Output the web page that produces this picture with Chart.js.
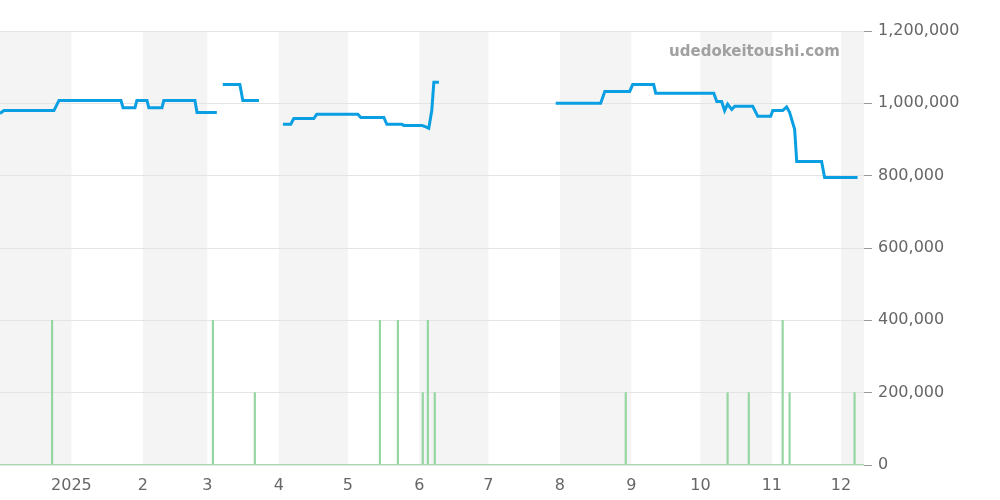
<!DOCTYPE html>
<html><head><meta charset="utf-8">
<script src="https://cdn.jsdelivr.net/npm/chart.js@4"></script>
<style>html,body{margin:0;padding:0;background:#fff}#w{width:1000px;height:500px}</style>
</head><body><div id="w"><canvas id="c"></canvas></div>
<script>
// x = days since 2024-12-01
const monthStarts=[31,62,90,121,151,182,212,243,274,304,335,365];
const monthLabels=['2025','2','3','4','5','6','7','8','9','10','11','12'];
const priceDays=[0,1.7,23.4,25.6,52.5,53.4,58.6,59.4,63.8,64.6,70.3,71.1,84.6,85.5,94.1,null,
96.7,104.1,105.4,112.4,null,
122.8,126.2,127.5,136.2,137.5,155.3,156.6,166.6,167.9,174.4,175.3,183.1,184.4,186.1,187.4,188.3,190.5,null,
241.2,260.7,262.5,273.3,274.6,283.7,284.6,309.8,311.1,313.2,314.5,315.8,317.6,318.9,326.7,328.9,334.5,335.4,339.7,341.4,342.7,344.9,345.8,356.6,357.9,372.2];
const priceVals=[972000,980000,980000,1008000,1008000,988000,988000,1008000,1008000,988000,988000,1008000,1008000,975000,975000,null,
1052000,1052000,1008000,1008000,null,
942000,942000,958000,958000,970000,970000,961000,961000,942000,942000,939000,939000,936000,931000,980000,1058000,1058000,null,
1000000,1000000,1033000,1033000,1052000,1052000,1028000,1028000,1005000,1005000,980000,998000,983000,992000,992000,964000,964000,980000,980000,990000,975000,928000,839000,839000,795000,795000];
const volDays=[22.6,92.4,110.6,164.9,172.7,183.5,185.7,188.7,271.6,315.8,325,339.7,342.7,370.9];
const volVals=[400000,400000,200000,400000,400000,200000,400000,200000,200000,200000,200000,400000,200000,200000];
const bandStarts=[0,62,121,182,243,304,365];const bandEnds=[31,90,151,212,274,335,396];

const priceData=[];
for(let i=0;i<priceDays.length;i++){
  if(priceDays[i]===null){priceData.push({x:(priceDays[i-1]+priceDays[i+1])/2,y:null});}
  else priceData.push({x:priceDays[i],y:priceVals[i]});
}
const volData=volDays.map((d,i)=>({x:d,y:volVals[i]}));

const bgPlugin={id:'bg',beforeDraw(ch){const {ctx,chartArea:a,scales:{x}}=ch;ctx.save();ctx.fillStyle='#f4f4f4';
 for(let i=0;i<bandStarts.length;i++){const l=Math.max(a.left,x.getPixelForValue(bandStarts[i]));const r=Math.min(a.right,x.getPixelForValue(bandEnds[i]));if(r>l)ctx.fillRect(l,a.top,r-l,a.bottom-a.top);}
 ctx.restore();},
 afterDatasetsDraw(ch){const {ctx,chartArea:a,scales:{x,y}}=ch;ctx.save();ctx.strokeStyle='#a8dcb0';ctx.lineWidth=1;ctx.beginPath();ctx.moveTo(a.left,y.getPixelForValue(0)-0.5);ctx.lineTo(a.right,y.getPixelForValue(0)-0.5);ctx.stroke();
 ctx.fillStyle='#a0a0a0';ctx.font='bold 15px "DejaVu Sans"';ctx.textAlign='right';ctx.textBaseline='middle';ctx.fillText('udedokeitoushi.com',840,52);ctx.restore();}};

new Chart(document.getElementById('c'),{
 data:{datasets:[
  {type:'line',data:priceData,borderColor:'#0a9fe2',borderWidth:3,pointRadius:0,spanGaps:false,tension:0,order:1},
  {type:'bar',data:volData,backgroundColor:'#94d6a0',barThickness:1.5,order:2}
 ]},
 options:{responsive:true,maintainAspectRatio:false,animation:false,
  layout:{padding:{top:31,left:0,right:10,bottom:0}},
  plugins:{legend:{display:false},tooltip:{enabled:false}},
  scales:{
   x:{type:'linear',min:0,max:375,offset:false,
    afterBuildTicks(s){s.ticks=monthStarts.map(v=>({value:v}));},
    ticks:{autoSkip:false,maxRotation:0,color:'#666',font:{size:16,family:'DejaVu Sans'},callback:(v)=>monthLabels[monthStarts.indexOf(v)]},
    grid:{display:false,offset:false},border:{display:false},
    afterFit(s){s.height=35;}},
   y:{position:'right',min:0,max:1200000,
    afterBuildTicks(s){s.ticks=[0,200000,400000,600000,800000,1000000,1200000].map(v=>({value:v}));},
    ticks:{color:'#666',font:{size:16,family:'DejaVu Sans'},padding:6,callback:v=>v.toLocaleString('en-US')},
    grid:{color:'#e4e4e4',tickLength:8,tickColor:'#999'},border:{display:false},
    afterFit(s){s.width=126;}}
  }},
 plugins:[bgPlugin]
});
</script></body></html>
